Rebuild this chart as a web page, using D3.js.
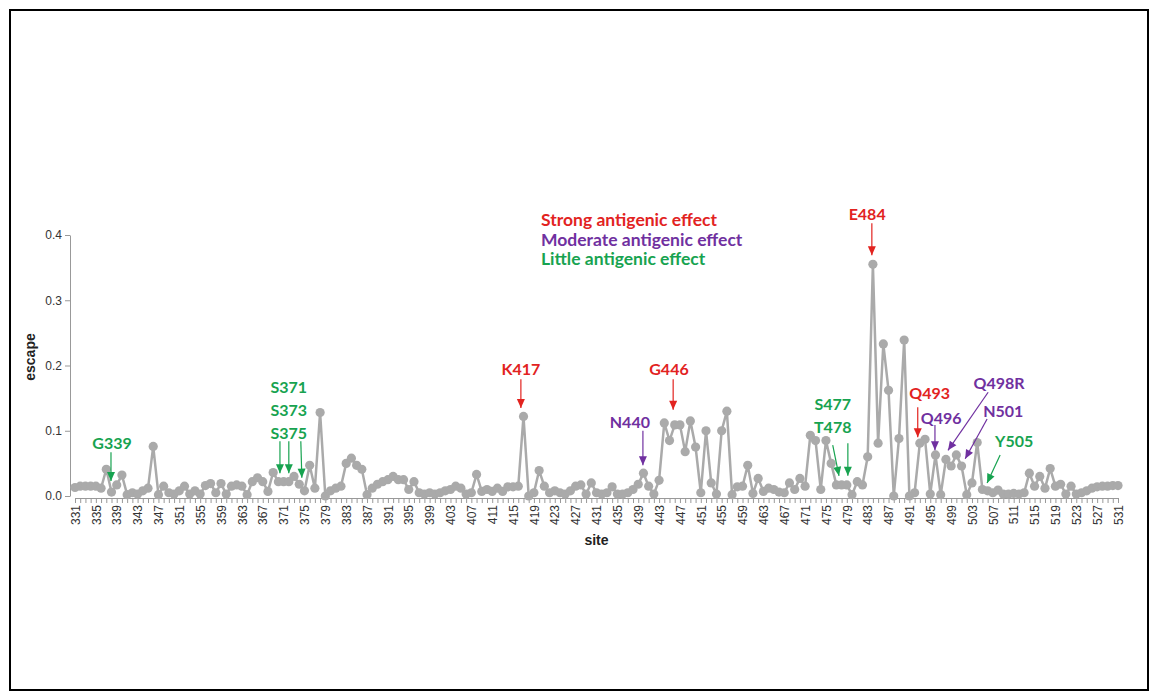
<html>
<head>
  <script type="text/javascript" src="https://cdn.jsdelivr.net/npm/d3@7/dist/d3.min.js"></script>
  <style>
  body { margin: 0; background: #fff; }
  .axis text { font-family: "Liberation Sans", Arial, sans-serif; font-size: 12px; fill: #333; }
  .axis path, .axis line { stroke: #999; }
  .note { font-family: Lato, "Open Sans", sans-serif; font-weight: bold; font-size: 16px; }
  .legend { font-size: 17.5px; }
  </style>
</head>
<body>

<script type="text/javascript">
// sites on the RBD, one escape value per site
var sites = d3.range(331, 532);

var escape = [
  0.013, 0.015, 0.015, 0.015, 0.015, 0.012, 0.041, 0.006, 0.017, 0.032, // 331-340
  0.002, 0.005, 0.003, 0.008, 0.012, 0.076, 0.002, 0.015, 0.005, 0.003, // 341-350
  0.008, 0.015, 0.003, 0.008, 0.003, 0.016, 0.019, 0.005, 0.019, 0.003, // 351-360
  0.015, 0.017, 0.015, 0.002, 0.022, 0.028, 0.022, 0.007, 0.036, 0.022, // 361-370
  0.022, 0.022, 0.030, 0.018, 0.008, 0.047, 0.012, 0.128, 0.000, 0.008, // 371-380
  0.012, 0.015, 0.050, 0.058, 0.047, 0.041, 0.002, 0.012, 0.018, 0.022, // 381-390
  0.025, 0.030, 0.025, 0.025, 0.010, 0.022, 0.005, 0.003, 0.005, 0.003, // 391-400
  0.005, 0.008, 0.010, 0.015, 0.012, 0.003, 0.005, 0.033, 0.007, 0.010, // 401-410
  0.007, 0.012, 0.007, 0.014, 0.014, 0.015, 0.122, 0.000, 0.005, 0.039, // 411-420
  0.015, 0.005, 0.008, 0.005, 0.003, 0.008, 0.015, 0.017, 0.003, 0.020, // 421-430
  0.005, 0.003, 0.005, 0.014, 0.003, 0.003, 0.005, 0.010, 0.018, 0.035, // 431-440
  0.015, 0.003, 0.024, 0.112, 0.085, 0.109, 0.109, 0.068, 0.115, 0.075, // 441-450
  0.005, 0.100, 0.020, 0.003, 0.100, 0.130, 0.002, 0.014, 0.015, 0.047, // 451-460
  0.004, 0.027, 0.007, 0.012, 0.010, 0.006, 0.005, 0.020, 0.010, 0.027, // 461-470
  0.015, 0.093, 0.085, 0.010, 0.085, 0.050, 0.017, 0.017, 0.017, 0.002, // 471-480
  0.022, 0.017, 0.060, 0.355, 0.081, 0.233, 0.162, 0.000, 0.088, 0.239, // 481-490
  0.000, 0.005, 0.081, 0.087, 0.003, 0.063, 0.002, 0.056, 0.046, 0.063, // 491-500
  0.046, 0.002, 0.020, 0.082, 0.010, 0.008, 0.005, 0.009, 0.003, 0.003, // 501-510
  0.004, 0.003, 0.005, 0.035, 0.015, 0.030, 0.012, 0.042, 0.015, 0.018, // 511-520
  0.003, 0.015, 0.003, 0.005, 0.008, 0.012, 0.014, 0.015, 0.015, 0.016, // 521-530
  0.016                                                                  // 531
];

var siteLabels = [331, 335, 339, 343, 347, 351, 355, 359, 363, 367, 371, 375, 379,
  383, 387, 391, 395, 399, 403, 407, 411, 415, 419, 423, 427, 431, 435, 439, 443,
  447, 451, 455, 459, 463, 467, 471, 475, 479, 483, 487, 491, 495, 499, 503, 507,
  511, 515, 519, 523, 527, 531];

var escapeTicks = [0, 0.1, 0.2, 0.3, 0.4];

var effects = ["Strong antigenic effect", "Moderate antigenic effect", "Little antigenic effect"];
var effectColors = ["#e2231f", "#7030a0", "#17a350"];

// annotations: arrow tip (site, value), arrow start, label position, effect index
var notes = [
  {text: "G339",  e: 2, tip: [337.9, 0.023], from: [337.9, 0.067], at: [338.1, 0.072]},
  {text: "S371",  e: 2, tip: [370.3, 0.035], from: [370.3, 0.084], at: [372.0, 0.158]},
  {text: "S373",  e: 2, tip: [372.0, 0.035], from: [372.0, 0.084], at: [372.0, 0.123]},
  {text: "S375",  e: 2, tip: [374.5, 0.028], from: [374.3, 0.084], at: [372.0, 0.087]},
  {text: "K417",  e: 0, tip: [416.5, 0.135], from: [416.5, 0.179], at: [416.5, 0.185]},
  {text: "N440",  e: 1, tip: [439.9, 0.047], from: [439.9, 0.100], at: [437.4, 0.104]},
  {text: "G446",  e: 0, tip: [445.7, 0.132], from: [445.7, 0.179], at: [444.9, 0.185]},
  {text: "S477",  e: 2, tip: [477.5, 0.031], from: [476.3, 0.078], at: [476.3, 0.132]},
  {text: "T478",  e: 2, tip: [479.2, 0.031], from: [479.2, 0.081], at: [476.3, 0.096]},
  {text: "E484",  e: 0, tip: [483.8, 0.369], from: [483.8, 0.418], at: [482.9, 0.423]},
  {text: "Q493",  e: 0, tip: [492.6, 0.090], from: [492.6, 0.136], at: [494.9, 0.149]},
  {text: "Q496",  e: 1, tip: [495.9, 0.070], from: [495.9, 0.109], at: [497.1, 0.110]},
  {text: "Q498R", e: 1, tip: [498.4, 0.070], from: [506.1, 0.159], at: [508.2, 0.164]},
  {text: "N501",  e: 1, tip: [501.7, 0.057], from: [505.9, 0.118], at: [509.0, 0.121]},
  {text: "Y505",  e: 2, tip: [505.9, 0.020], from: [508.4, 0.063], at: [511.1, 0.075]}
];

var svg = d3.select("body").append("svg")
  .attr("width", 1157)
  .attr("height", 694);

// outer frame
svg.append("rect")
  .attr("x", 10).attr("y", 10)
  .attr("width", 1138).attr("height", 680)
  .attr("fill", "none")
  .attr("stroke", "#000")
  .attr("stroke-width", 2);

var x = d3.scaleLinear().domain([331, 531]).range([75, 1118]);
var y = d3.scaleLinear().domain([0, 0.4]).range([496, 235]);

var yAxis = svg.append("g")
  .attr("class", "axis")
  .attr("transform", "translate(70,0)")
  .call(d3.axisLeft(y).tickValues(escapeTicks).tickFormat(d3.format(".1f")).tickSize(5).tickSizeOuter(0));
yAxis.selectAll("text").attr("font-size", 13).attr("x", -8);

var xAxis = svg.append("g")
  .attr("class", "axis")
  .attr("transform", "translate(0,498)")
  .call(d3.axisBottom(x).tickValues(sites).tickSize(5).tickSizeOuter(0)
    .tickFormat(function(d) { return siteLabels.indexOf(d) >= 0 ? d : ""; }));
xAxis.selectAll("text")
  .attr("transform", "rotate(-90)")
  .attr("text-anchor", "end")
  .attr("x", -7)
  .attr("y", 0)
  .attr("dy", "0.35em");

svg.append("text")
  .attr("transform", "translate(35,357) rotate(-90)")
  .attr("text-anchor", "middle")
  .attr("font-family", "Liberation Sans, Arial, sans-serif")
  .attr("font-weight", "bold")
  .attr("font-size", 14)
  .attr("fill", "#222")
  .text("escape");

svg.append("text")
  .attr("x", (x.range()[0] + x.range()[1]) / 2)
  .attr("y", 545)
  .attr("text-anchor", "middle")
  .attr("font-family", "Liberation Sans, Arial, sans-serif")
  .attr("font-weight", "bold")
  .attr("font-size", 14)
  .attr("fill", "#222")
  .text("site");

var points = sites.map(function(s, i) { return {site: s, v: escape[i]}; });

var line = d3.line()
  .x(function(d) { return x(d.site); })
  .y(function(d) { return y(d.v); });

svg.append("path")
  .datum(points)
  .attr("d", line)
  .attr("fill", "none")
  .attr("stroke", "#aaaaaa")
  .attr("stroke-width", 2.5);

svg.selectAll("circle.pt")
  .data(points)
  .enter().append("circle")
  .attr("class", "pt")
  .attr("cx", function(d) { return x(d.site); })
  .attr("cy", function(d) { return y(d.v); })
  .attr("r", 4.6)
  .attr("fill", "#aaaaaa");

// legend
svg.selectAll("text.legend")
  .data(effects)
  .enter().append("text")
  .attr("class", "note legend")
  .attr("x", 541)
  .attr("y", function(d, i) { return 226 + i * 19.5; })
  .attr("fill", function(d, i) { return effectColors[i]; })
  .text(function(d) { return d; });

// arrows
var g = svg.selectAll("g.ann")
  .data(notes)
  .enter().append("g")
  .attr("class", "ann");

g.append("line")
  .attr("x1", function(d) { return x(d.from[0]); })
  .attr("y1", function(d) { return y(d.from[1]); })
  .attr("x2", function(d) { return x(d.tip[0]); })
  .attr("y2", function(d) { return y(d.tip[1]); })
  .attr("stroke", function(d) { return effectColors[d.e]; })
  .attr("stroke-width", 1.2);

g.append("path")
  .attr("d", function(d) {
    var x1 = x(d.from[0]), y1 = y(d.from[1]);
    var x2 = x(d.tip[0]), y2 = y(d.tip[1]);
    var a = Math.atan2(y2 - y1, x2 - x1);
    var len = 9, w = 4;
    var bx = x2 - len * Math.cos(a), by = y2 - len * Math.sin(a);
    var px = -Math.sin(a) * w, py = Math.cos(a) * w;
    return "M" + x2 + "," + y2 + "L" + (bx + px) + "," + (by + py) + "L" + (bx - px) + "," + (by - py) + "Z";
  })
  .attr("fill", function(d) { return effectColors[d.e]; });

g.append("text")
  .attr("class", "note")
  .attr("x", function(d) { return x(d.at[0]); })
  .attr("y", function(d) { return y(d.at[1]); })
  .attr("text-anchor", "middle")
  .attr("fill", function(d) { return effectColors[d.e]; })
  .text(function(d) { return d.text; });

</script>

</body>
</html>
